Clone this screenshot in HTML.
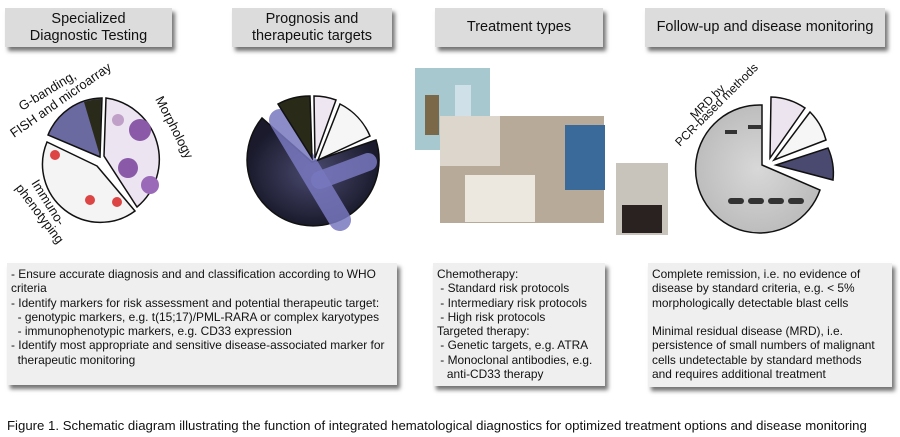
<!DOCTYPE html>
<html><head><meta charset="utf-8"><style>
body{margin:0;width:900px;height:437px;background:#fff;position:relative;overflow:hidden;font-family:"Liberation Sans",sans-serif;color:#111}
.h{position:absolute;background:#dcdcdc;box-shadow:3px 4px 4px rgba(0,0,0,.55);text-align:center;font-size:14.5px;line-height:17px;display:flex;align-items:center;justify-content:center}
.b{position:absolute;background:#efefef;box-shadow:3px 4px 4px rgba(0,0,0,.55);font-size:11.9px;line-height:14.3px;padding:4px 4px;box-sizing:border-box;white-space:nowrap}
.cap{position:absolute;left:7px;top:418px;font-size:13.2px;white-space:nowrap}
svg{position:absolute;left:0;top:0}
</style></head><body>
<div class="h" style="left:5px;top:8px;width:167px;height:39px">Specialized<br>Diagnostic Testing</div>
<div class="h" style="left:232px;top:8px;width:160px;height:39px">Prognosis and<br>therapeutic targets</div>
<div class="h" style="left:435px;top:8px;width:168px;height:39px">Treatment types</div>
<div class="h" style="left:645px;top:8px;width:240px;height:39px">Follow-up and disease monitoring</div>

<svg width="900" height="260" viewBox="0 0 900 260">
<defs>
<radialGradient id="dk" cx="50%" cy="50%" r="50%"><stop offset="0" stop-color="#4a4a70"/><stop offset="1" stop-color="#1a1a2c"/></radialGradient>
<radialGradient id="gel" cx="50%" cy="50%" r="50%"><stop offset="0" stop-color="#d8d8d8"/><stop offset="1" stop-color="#bdbdbd"/></radialGradient>
</defs>
<!-- pie 1 -->
<path d="M104,156 L106,98 A62,62 0 0 1 137,207 Z" fill="#ece4f0" stroke="#111" stroke-width="1.5"/>
<circle cx="140" cy="130" r="11" fill="#8a5aa8"/><circle cx="128" cy="168" r="10" fill="#8a5aa8"/><circle cx="150" cy="185" r="9" fill="#9a6ab8"/><circle cx="118" cy="120" r="6" fill="#c0a0c8"/>
<path d="M100,157 L48,135 A59,59 0 0 1 102,98 Z" fill="#6a6aa0" stroke="#111" stroke-width="1.5"/>
<path d="M100,156 L84,102 A58,58 0 0 1 101,99 Z" fill="#2a2a1a"/>
<path d="M97,166 L47,142 A58,58 0 0 0 135,211 Z" fill="#f4f4f4" stroke="#111" stroke-width="1.5"/>
<circle cx="55" cy="155" r="5" fill="#d44"/><circle cx="90" cy="200" r="5" fill="#d44"/><circle cx="117" cy="202" r="5" fill="#d44"/>
<g font-size="13" fill="#111">
<text transform="translate(22,111) rotate(-31)">G-banding,</text>
<text transform="translate(14,138) rotate(-35)">FISH and microarray</text>
<text transform="translate(155,99) rotate(63)">Morphology</text>
<text transform="translate(31,183) rotate(58)">Immuno-</text>
<text transform="translate(15,188) rotate(53)">phenotyping</text>
</g>
<!-- pie 2 -->
<path d="M312,162 L262,118 A66,66 0 1 0 376,140 Z" fill="url(#dk)" stroke="#111" stroke-width="1.5"/>
<path d="M280,120 L340,220" stroke="#7878c0" stroke-width="22" stroke-linecap="round" opacity=".85"/>
<path d="M320,180 L368,162" stroke="#7878c0" stroke-width="18" stroke-linecap="round" opacity=".85"/>
<path d="M312,158 L278,104 A66,66 0 0 1 310,96 Z" fill="#2a2a18" stroke="#111" stroke-width="1.5"/>
<path d="M315,158 L314,96 A64,64 0 0 1 336,100 Z" fill="#eee6f0" stroke="#111" stroke-width="1.5"/>
<path d="M318,160 L340,104 A64,64 0 0 1 370,136 Z" fill="#f6f6f6" stroke="#111" stroke-width="1.5"/>
<!-- photos -->
<rect x="415" y="68" width="75" height="82" fill="#a8c8d0"/>
<rect x="425" y="95" width="14" height="40" fill="#7a6848"/><rect x="455" y="85" width="16" height="48" fill="#d0e0e8"/>
<rect x="440" y="116" width="164" height="107" fill="#b8aa98"/>
<rect x="440" y="116" width="60" height="50" fill="#ddd6cc"/>
<rect x="465" y="175" width="70" height="47" fill="#ece8e0"/>
<rect x="565" y="125" width="40" height="65" fill="#3a6a9a"/>
<rect x="616" y="163" width="52" height="72" fill="#c8c4bc"/>
<rect x="622" y="205" width="40" height="28" fill="#2a2220"/>
<!-- pie 4 -->
<path d="M762,165 L762,105 A64,64 0 1 0 820,190 Z" fill="url(#gel)" stroke="#111" stroke-width="1.5"/>
<g fill="#333"><rect x="728" y="198" width="16" height="6" rx="3"/><rect x="748" y="198" width="16" height="6" rx="3"/><rect x="768" y="198" width="16" height="6" rx="3"/><rect x="788" y="198" width="16" height="6" rx="3"/><rect x="725" y="130" width="12" height="4"/><rect x="748" y="125" width="14" height="4"/></g>
<path d="M770,158 L771,97 A64,64 0 0 1 805,108 Z" fill="#ece4ee" stroke="#111" stroke-width="1.5"/>
<path d="M774,160 L810,112 A62,62 0 0 1 826,140 Z" fill="#f6f6f6" stroke="#111" stroke-width="1.5"/>
<path d="M776,165 L828,148 A62,62 0 0 1 833,180 Z" fill="#4a4a70" stroke="#111" stroke-width="1.5"/>
<g font-size="12" fill="#111">
<text transform="translate(695,120) rotate(-45)">MRD by</text>
<text transform="translate(680,147) rotate(-45)">PCR-based methods</text>
</g>
</svg>

<div class="b" style="left:7px;top:263px;width:390px;height:122px">- Ensure accurate diagnosis and and classification according to WHO<br>criteria<br>- Identify markers for risk assessment and potential therapeutic target:<br>&nbsp;&nbsp;- genotypic markers, e.g. t(15;17)/PML-RARA or complex karyotypes<br>&nbsp;&nbsp;- immunophenotypic markers, e.g. CD33 expression<br>- Identify most appropriate and sensitive disease-associated marker for<br>&nbsp;&nbsp;therapeutic monitoring</div>
<div class="b" style="left:433px;top:263px;width:172px;height:123px">Chemotherapy:<br>&nbsp;- Standard risk protocols<br>&nbsp;- Intermediary risk protocols<br>&nbsp;- High risk protocols<br>Targeted therapy:<br>&nbsp;- Genetic targets, e.g. ATRA<br>&nbsp;- Monoclonal antibodies, e.g.<br>&nbsp;&nbsp;&nbsp;anti-CD33 therapy</div>
<div class="b" style="left:648px;top:263px;width:244px;height:124px">Complete remission, i.e. no evidence of<br>disease by standard criteria, e.g. &lt; 5%<br>morphologically detectable blast cells<br><br>Minimal residual disease (MRD), i.e.<br>persistence of small numbers of malignant<br>cells undetectable by standard methods<br>and requires additional treatment</div>
<div class="cap">Figure 1. Schematic diagram illustrating the function of integrated hematological diagnostics for optimized treatment options and disease monitoring</div>
</body></html>
